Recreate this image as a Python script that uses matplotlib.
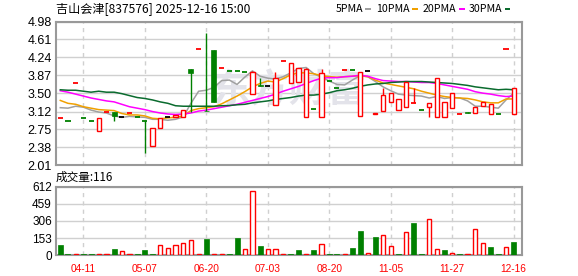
import matplotlib
matplotlib.use("Agg")
import matplotlib.pyplot as plt
from matplotlib.patches import Rectangle
import numpy as np

# ---------------- data ----------------
title = "吉山会津[837576] 2025-12-16 15:00"
opens = [2.98, 2.92, 3.70, 2.99, 2.92, 2.71, 3.11, 3.11, 3.00, 3.10,
         3.00, 2.92, 2.40, 2.79, 3.00, 3.00, 3.01, 3.99, 4.41, 3.14,
         4.39, 4.01, 3.965, 3.96, 3.94, 3.48, 3.67, 3.65, 3.26, 4.16,
         3.70, 3.73, 3.01, 3.17, 3.01, 3.75, 3.60, 3.97, 3.97, 3.03,
         3.96, 3.06, 3.13, 3.31, 3.16, 3.22, 3.29, 3.15, 3.22, 3.01,
         3.01, 3.19, 3.06, 3.105, 3.08, 3.23, 3.06, 3.06, 4.41, 3.06]
closes = [2.98, 2.92, 3.70, 2.99, 2.92, 2.98, 3.11, 3.02, 3.00, 3.10,
          3.00, 2.92, 2.79, 2.99, 3.00, 3.05, 3.15, 3.91, 4.41, 3.13,
          3.32, 4.01, 3.965, 3.96, 3.94, 3.94, 3.65, 3.65, 3.82, 4.16,
          4.13, 4.01, 3.99, 3.17, 3.91, 3.75, 3.60, 3.97, 3.97, 3.94,
          3.96, 3.10, 3.455, 3.50, 3.37, 3.74, 3.29, 3.15, 3.29, 3.81,
          3.31, 3.50, 3.06, 3.085, 3.21, 3.32, 3.27, 3.06, 4.41, 3.60]
highs = [2.98, 2.92, 3.70, 2.99, 2.92, 2.98, 3.11, 3.11, 3.00, 3.10,
         3.00, 2.92, 2.79, 2.99, 3.00, 3.05, 3.15, 3.99, 4.41, 4.75,
         4.39, 4.01, 3.965, 3.96, 3.94, 3.95, 3.81, 3.65, 3.94, 4.16,
         4.13, 4.01, 4.02, 3.17, 4.00, 3.75, 3.60, 3.97, 3.97, 3.94,
         3.96, 3.10, 3.61, 3.50, 3.37, 3.74, 3.60, 3.15, 3.29, 3.81,
         3.31, 3.50, 3.06, 3.105, 3.21, 3.32, 3.27, 3.06, 4.41, 3.60]
lows = [2.98, 2.92, 3.70, 2.99, 2.92, 2.71, 3.11, 2.93, 3.00, 3.10,
        3.00, 2.27, 2.40, 2.79, 3.00, 3.00, 3.01, 3.11, 4.41, 3.13,
        3.32, 4.01, 3.965, 3.96, 3.94, 3.48, 3.65, 3.65, 3.26, 4.16,
        3.70, 3.73, 3.01, 3.17, 3.01, 3.75, 3.60, 3.97, 3.97, 3.03,
        3.96, 3.06, 3.13, 3.31, 3.16, 3.22, 3.29, 3.15, 3.01, 3.01,
        3.01, 3.19, 3.06, 3.085, 3.08, 3.23, 3.06, 3.06, 4.41, 3.06]
candle_colors = list("rgrggrrgkr" "ggrrkrrgrg" "grgggrgkrr" "rrrgrggrgr"
                     "krrrrrrgrr" "rrrgrrrgrr")
ma5 = [3.20, 3.19, 3.23, 3.21, 3.15, 3.11, 3.09, 3.03, 3.00, 3.02,
       3.01, 3.00, 2.96, 2.96, 2.94, 2.96, 3.01, 3.29, 3.54, 3.56,
       3.62, 3.76, 3.77, 3.68, 3.83, 3.96, 3.85, 3.81, 3.79, 3.84,
       3.92, 4.01, 4.03, 3.90, 3.83, 3.75, 3.68, 3.67, 3.77, 3.86,
       3.84, 3.74, 3.63, 3.55, 3.48, 3.46, 3.45, 3.44, 3.40, 3.43,
       3.39, 3.41, 3.40, 3.34, 3.23, 3.23, 3.21, 3.19, 3.36, 3.50]
ma10 = [3.35, 3.29, 3.27, 3.22, 3.19, 3.16, 3.15, 3.14, 3.08, 3.05,
        3.05, 3.03, 2.98, 2.97, 2.99, 3.00, 3.03, 3.14, 3.18, 3.20,
        3.22, 3.28, 3.36, 3.44, 3.53, 3.63, 3.70, 3.75, 3.73, 3.80,
        3.88, 3.92, 3.92, 3.90, 3.86, 3.84, 3.83, 3.84, 3.85, 3.86,
        3.84, 3.77, 3.71, 3.68, 3.65, 3.62, 3.59, 3.54, 3.50, 3.46,
        3.43, 3.41, 3.40, 3.39, 3.36, 3.32, 3.30, 3.30, 3.38, 3.38]
ma20 = [3.55, 3.52, 3.48, 3.44, 3.40, 3.37, 3.34, 3.32, 3.27, 3.22,
        3.19, 3.16, 3.12, 3.09, 3.07, 3.06, 3.07, 3.09, 3.13, 3.15,
        3.18, 3.21, 3.24, 3.27, 3.31, 3.35, 3.39, 3.43, 3.48, 3.54,
        3.59, 3.64, 3.70, 3.76, 3.81, 3.82, 3.82, 3.84, 3.85, 3.87,
        3.85, 3.80, 3.76, 3.75, 3.74, 3.74, 3.73, 3.72, 3.72, 3.70,
        3.67, 3.64, 3.61, 3.58, 3.53, 3.50, 3.48, 3.45, 3.43, 3.44]
ma30 = [3.57, 3.56, 3.56, 3.54, 3.52, 3.54, 3.52, 3.52, 3.49, 3.45,
        3.41, 3.39, 3.36, 3.32, 3.29, 3.24, 3.23, 3.23, 3.23, 3.23,
        3.23, 3.24, 3.245, 3.26, 3.27, 3.30, 3.32, 3.34, 3.37, 3.39,
        3.41, 3.44, 3.46, 3.46, 3.48, 3.51, 3.55, 3.57, 3.60, 3.64,
        3.67, 3.69, 3.70, 3.72, 3.73, 3.74, 3.74, 3.74, 3.73, 3.72,
        3.71, 3.70, 3.68, 3.66, 3.63, 3.61, 3.59, 3.57, 3.58, 3.57]
volumes = [92, 12, 9, 12, 12, 9, 9, 57, 36, 9,
           12, 48, 12, 90, 66, 90, 110, 137, 9, 146,
           9, 9, 12, 158, 57, 576, 84, 57, 57, 9,
           12, 48, 9, 48, 98, 12, 12, 9, 66, 218,
           21, 164, 179, 81, 12, 206, 290, 12, 322, 54,
           48, 21, 12, 9, 233, 107, 75, 12, 72, 116]
volume_colors = list("ggrggrrgrr" "gggrrrrrrg" "rrggrrgrrr" "ggrgrggrgg"
                     "rgrrgrggrr" "grgrrrggrg")
price_ticks = [2.01, 2.38, 2.75, 3.12, 3.50, 3.87, 4.24, 4.61, 4.98]
price_tick_labels = ["2.01", "2.38", "2.75", "3.12", "3.50", "3.87", "4.24", "4.61", "4.98"]
volume_ticks = [0, 153, 306, 459, 612]
date_tick_pos = [3, 11, 19, 27, 35, 43, 51, 59]
date_tick_labels = ["04-11", "05-07", "06-20", "07-03", "08-20", "11-05", "11-27", "12-16"]
legend_labels = ["5PMA", "10PMA", "20PMA", "30PMA"]

# ---------------- style ----------------
W, H = 578, 276
RED, GREEN, BLACK = "#ff0000", "#008000", "#000000"
cmap = {"r": RED, "g": GREEN, "k": BLACK}
ma_colors = ["#a0a0a0", "#f0a000", "#ff00ff", "#0a6b2e"]
GRID = "#d0d0d0"
SPINE = "#999999"
CJK = ["Noto Sans CJK SC", "DejaVu Sans"]


def fx(px):
    return px / W


def fy(py):
    return 1 - py / H


fig = plt.figure(figsize=(W / 100, H / 100), dpi=100)
fig.patch.set_facecolor("white")

L, R = 56, 522
axp = fig.add_axes([fx(L), fy(165.3), fx(R - L), (165.3 - 21.5) / H])
axv = fig.add_axes([fx(L), fy(255.3), fx(R - L), (255.3 - 186.5) / H])

n = len(closes)
x = np.arange(n)
xlim = (-0.56, 60.08)

for ax in (axp, axv):
    ax.set_xlim(*xlim)
    for s in ax.spines.values():
        s.set_color(SPINE)
        s.set_linewidth(1.5)
    ax.set_xticks(date_tick_pos)
    ax.tick_params(length=0)
    ax.grid(axis="x", color=GRID, linestyle=(0, (3, 3)), linewidth=1)
    ax.grid(axis="y", color=GRID, linestyle="-", linewidth=1)
    ax.set_axisbelow(True)

# watermark
axp.text(0.5, 0.52, "东方财富", transform=axp.transAxes, ha="center", va="center",
         fontsize=28, fontweight="bold", color="#e3e3ea", family=CJK, zorder=0.6)

# price panel
axp.set_ylim(2.01, 4.98)
axp.set_yticks(price_ticks)
axp.set_yticklabels(price_tick_labels, fontsize=9, family="Liberation Sans")
axp.tick_params(axis="y", pad=3)
axp.set_xticklabels([])

for ma, c in zip([ma5, ma10, ma20, ma30], ma_colors):
    axp.plot(x, ma, color=c, linewidth=1.1, zorder=2)

for i in range(n):
    o, c, h, l = opens[i], closes[i], highs[i], lows[i]
    col = cmap[candle_colors[i]]
    if h > l:
        axp.vlines(i, l, h, color=col, linewidth=1, zorder=3)
    if abs(c - o) < 1e-9:
        axp.hlines(c, i - 0.33, i + 0.33, color=col, linewidth=1.3, zorder=4)
    elif c > o:
        axp.bar(i, c - o, bottom=o, width=0.55, facecolor="white", edgecolor=col,
                linewidth=1, zorder=4)
    else:
        axp.bar(i, c - o, bottom=o, width=0.65, facecolor=col, edgecolor=col,
                linewidth=0.5, zorder=4)

# volume panel
axv.set_ylim(0, 612)
axv.set_yticks(volume_ticks)
axv.set_yticklabels([str(v) for v in volume_ticks], fontsize=8.5, family="Liberation Sans")
axv.tick_params(axis="y", pad=3)
axv.set_xticklabels(date_tick_labels, fontsize=7.3, color=RED, family="Liberation Sans")
axv.tick_params(axis="x", pad=6)
for i in range(n):
    col = cmap[volume_colors[i]]
    if volume_colors[i] == "r":
        axv.bar(i, volumes[i], width=0.55, facecolor="white", edgecolor=col,
                linewidth=1, zorder=3)
    else:
        axv.bar(i, volumes[i], width=0.65, facecolor=col, edgecolor=col,
                linewidth=0.5, zorder=3)

# texts
fig.text(fx(56), fy(9), title, ha="left", va="center", fontsize=8.7, family=CJK)
fig.text(fx(56), fy(177.5), "成交量:" + str(volumes[-1]), ha="left", va="center",
         fontsize=8.4, family=CJK)

leg_mark_x = [365.3, 412.3, 459, 504.7]
for lab, mxp, c in zip(legend_labels, leg_mark_x, ma_colors):
    fig.text(fx(mxp - 2.5), fy(9), lab, ha="right", va="center", fontsize=7.6, family=CJK)
    fig.patches.append(Rectangle((fx(mxp), fy(10.3)), fx(5.5), 2.6 / H,
                                 transform=fig.transFigure, facecolor=c,
                                 edgecolor="none"))

fig.savefig("out.png", dpi=100, facecolor="white")
